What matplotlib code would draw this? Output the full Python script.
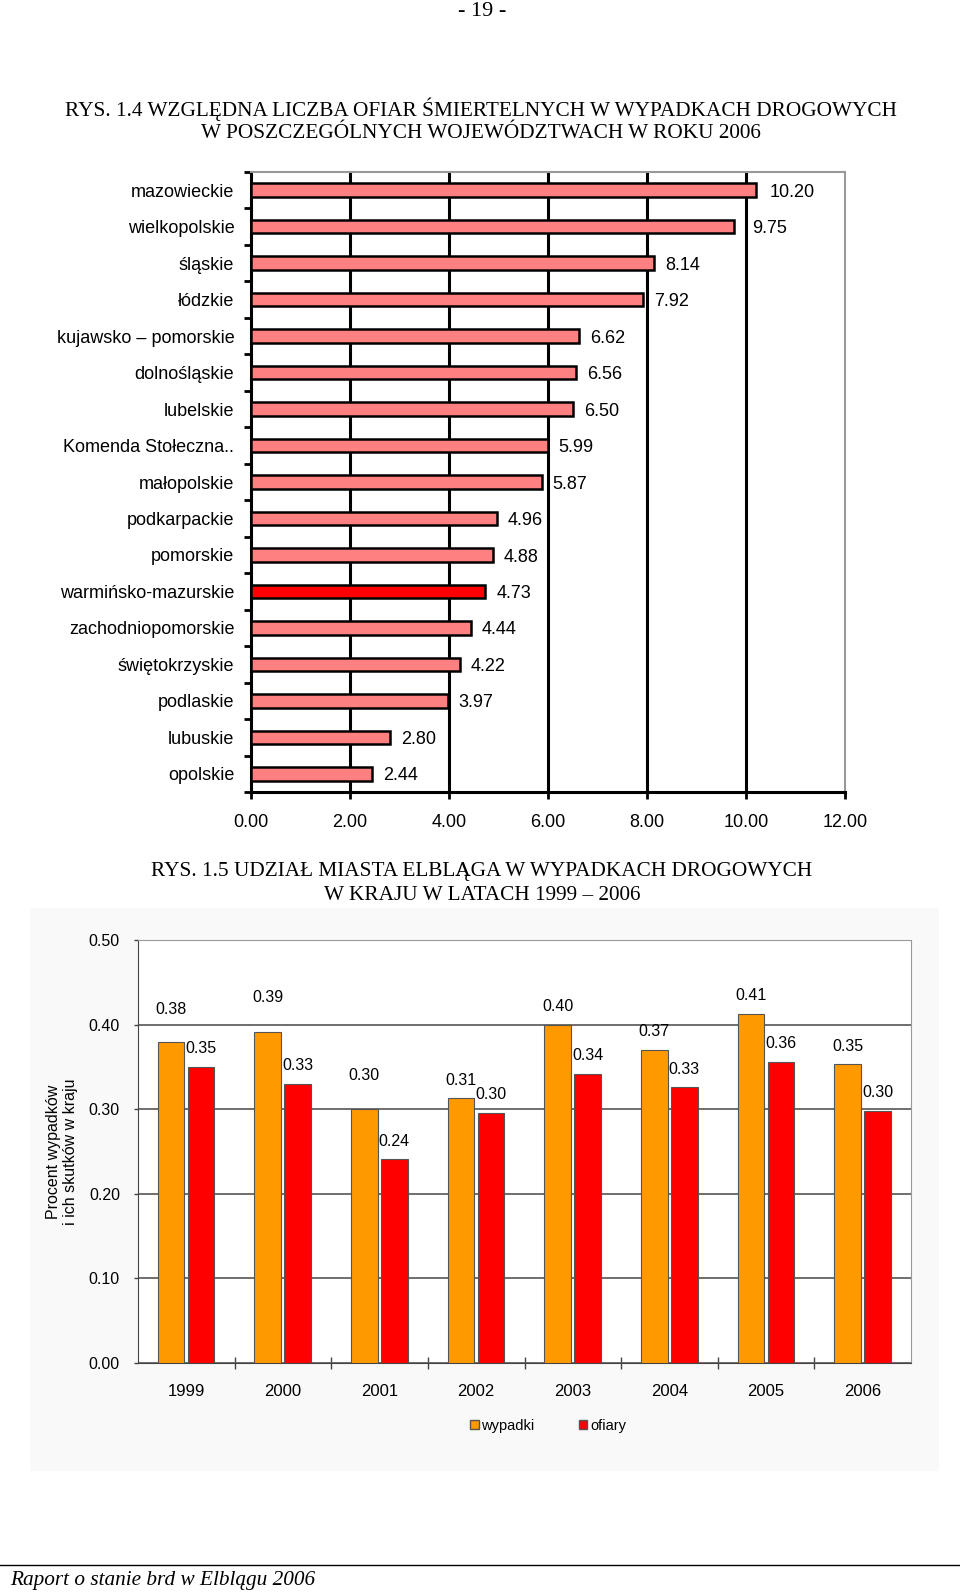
import numpy as np
import matplotlib
matplotlib.use('Agg')
import matplotlib.pyplot as plt
from matplotlib.patches import Rectangle, Patch
from matplotlib.lines import Line2D

plt.rcParams['font.family'] = ['Liberation Sans', 'DejaVu Sans']

#dane - rys. 1.4
wojewodztwa = ['mazowieckie', 'wielkopolskie', 'śląskie', 'łódzkie',
               'kujawsko – pomorskie', 'dolnośląskie', 'lubelskie',
               'Komenda Stołeczna..', 'małopolskie', 'podkarpackie', 'pomorskie',
               'warmińsko-mazurskie', 'zachodniopomorskie', 'świętokrzyskie',
               'podlaskie', 'lubuskie', 'opolskie']
wskaznik = [10.20, 9.75, 8.14, 7.92, 6.62, 6.56, 6.50, 5.99, 5.87,
            4.96, 4.88, 4.73, 4.44, 4.22, 3.97, 2.80, 2.44]
wyroznione = 'warmińsko-mazurskie'

#dane - rys. 1.5
lata = ['1999', '2000', '2001', '2002', '2003', '2004', '2005', '2006']
wypadki = [0.380, 0.391, 0.300, 0.313, 0.400, 0.370, 0.413, 0.353]
ofiary = [0.350, 0.330, 0.241, 0.296, 0.342, 0.326, 0.356, 0.298]

W, H = 960, 1592
fig = plt.figure(figsize=(W/100, H/100), dpi=100)

def fx(px):
    return px / W

def fy(py):
    return 1 - py / H

serif = ['Liberation Serif', 'DejaVu Serif']

#naglowki strony
fig.text(fx(482), fy(12), '- 19 -', ha='center', va='center', family=serif, fontsize=16)
fig.text(fx(481), fy(109), 'RYS. 1.4 WZGLĘDNA LICZBA OFIAR ŚMIERTELNYCH W WYPADKACH DROGOWYCH',
         ha='center', va='center', family=serif, fontsize=15.3)
fig.text(fx(481), fy(133), 'W POSZCZEGÓLNYCH WOJEWÓDZTWACH W ROKU 2006',
         ha='center', va='center', family=serif, fontsize=15.3)

#wykres 1.4
ax1 = fig.add_axes([fx(251), fy(792), fx(845) - fx(251), (792 - 172) / H])
n = len(wojewodztwa)
y = np.arange(n)
kolory = ['#ff0000' if w == wyroznione else '#ff8080' for w in wojewodztwa]
ax1.barh(y, wskaznik, height=0.37, color=kolory, edgecolor='black', linewidth=1.8, zorder=3)
for xv in [2, 4, 6, 8, 10]:
    ax1.axvline(xv, color='black', linewidth=2.2, zorder=1)
ax1.set_xlim(0, 12)
ax1.set_ylim(n - 0.5, -0.5)
ax1.set_xticks(np.arange(0, 13, 2))
ax1.set_xticklabels([f'{v:.2f}' for v in np.arange(0, 13, 2)], fontsize=13)
ax1.set_yticks(y)
ax1.set_yticklabels(wojewodztwa, fontsize=13)
ax1.set_yticks(np.arange(-0.5, n, 1), minor=True)
ax1.tick_params(axis='y', which='major', length=0, pad=12)
ax1.tick_params(axis='y', which='minor', length=5, width=2, direction='out')
ax1.tick_params(axis='x', length=5, width=2, direction='out', pad=11)
for s in ['left', 'bottom']:
    ax1.spines[s].set_linewidth(2.2)
    ax1.spines[s].set_color('black')
for s in ['top', 'right']:
    ax1.spines[s].set_linewidth(1.5)
    ax1.spines[s].set_color('#999999')

odstep = [10, 13] + [8] * (n - 2)
for i, v in enumerate(wskaznik):
    ax1.annotate(f'{v:.2f}', (v, i), xytext=(odstep[i], -1.5), textcoords='offset points',
                 ha='left', va='center', fontsize=13)

#naglowek 1.5
fig.text(fx(482), fy(871), 'RYS. 1.5 UDZIAŁ MIASTA ELBLĄGA W WYPADKACH DROGOWYCH',
         ha='center', va='center', family=serif, fontsize=15.3)
fig.text(fx(482), fy(895), 'W KRAJU W LATACH 1999 – 2006',
         ha='center', va='center', family=serif, fontsize=15.3)

#tlo wykresu
tlo = Rectangle((fx(30), fy(1471)), (939 - 30) / W, (1471 - 908) / H,
                transform=fig.transFigure, facecolor='#f9f9f9', edgecolor='none', zorder=-1)
fig.patches.append(tlo)

#wykres 1.5
ax2 = fig.add_axes([fx(138), fy(1363), fx(911) - fx(138), (1363 - 940) / H])
ax2.set_zorder(2)
x = np.arange(len(lata))
ax2.bar(x - 0.157, wypadki, 0.275, color='#ff9900', edgecolor='#555555', linewidth=0.8, zorder=3)
ax2.bar(x + 0.153, ofiary, 0.275, color='#ff0000', edgecolor='#555555', linewidth=0.8, zorder=3)
ax2.set_xlim(-0.5, len(lata) - 0.5)
ax2.set_ylim(0, 0.5)
ax2.set_yticks(np.arange(0, 0.51, 0.1))
ax2.set_yticklabels([f'{v:.2f}' for v in np.arange(0, 0.51, 0.1)], fontsize=11.5)
ax2.grid(axis='y', color='#555555', linewidth=1.2, zorder=0)
ax2.set_xticks(x)
ax2.set_xticklabels(lata, fontsize=12)
ax2.set_xticks(np.arange(0.5, len(lata) - 1, 1), minor=True)
ax2.tick_params(axis='x', which='major', length=0, pad=15)
ax2.tick_params(axis='x', which='minor', length=8, width=1, direction='inout', color='#444444')
ax2.tick_params(axis='y', length=3, width=1, color='#444444', pad=10)
for s in ['left', 'bottom']:
    ax2.spines[s].set_color('#444444')
for s in ['top', 'right']:
    ax2.spines[s].set_color('#999999')

wys_w = [23, 25, 24, 13, 13, 13, 13, 13]
for i in range(len(lata)):
    ax2.annotate(f'{wypadki[i]:.2f}', (x[i] - 0.157, wypadki[i]), xytext=(0, wys_w[i]),
                 textcoords='offset points', ha='center', va='center', fontsize=11.5)
    ax2.annotate(f'{ofiary[i]:.2f}', (x[i] + 0.153, ofiary[i]), xytext=(0, 13),
                 textcoords='offset points', ha='center', va='center', fontsize=11.5)

fig.text(fx(62), fy(1152), 'Procent wypadków\ni ich skutków w kraju', rotation=90,
         ha='center', va='center', fontsize=11.5, linespacing=1.1)

uchwyty = [Patch(facecolor='#ff9900', edgecolor='#555555'),
           Patch(facecolor='#ff0000', edgecolor='#555555')]
fig.legend(uchwyty, ['wypadki', 'ofiary'], loc='center', bbox_to_anchor=(fx(548), fy(1426)),
           ncol=2, frameon=False, fontsize=10.5, handlelength=0.6, handleheight=0.6,
           handletextpad=0.2, columnspacing=3)

#stopka
fig.add_artist(Line2D([0, 1], [fy(1565), fy(1565)], color='black', linewidth=1.0,
                      transform=fig.transFigure))
fig.text(fx(10), fy(1580), 'Raport o stanie brd w Elblągu 2006', ha='left', va='center',
         family=serif, style='italic', fontsize=15.3)

plt.savefig('out.png', dpi=100)
